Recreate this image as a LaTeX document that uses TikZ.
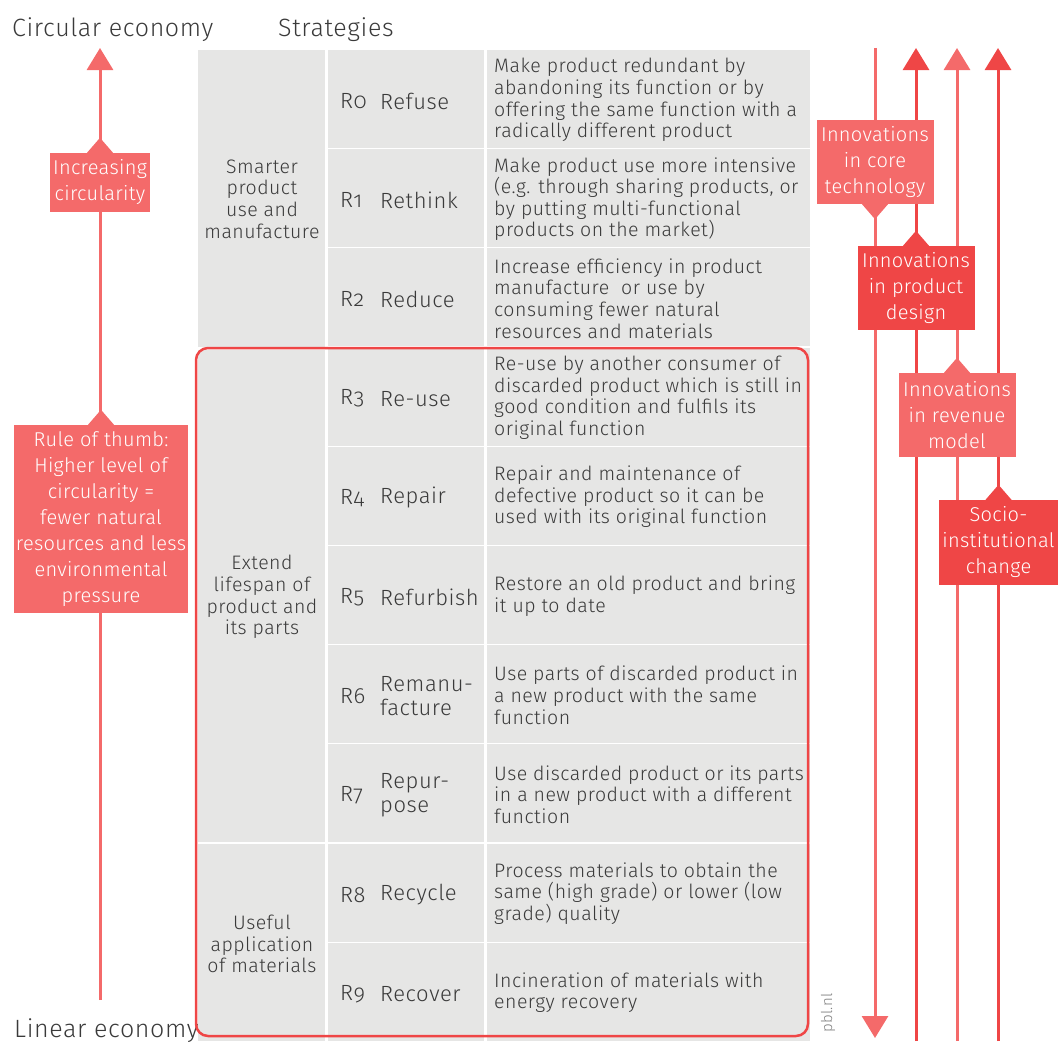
\documentclass[tikz,border=0pt]{standalone}
\usepackage{fontspec}
\setmainfont{Fira Sans Light}[Numbers=OldStyle, LetterSpace=2.5]
\newfontfamily\callfont{Fira Sans Light}[Numbers=OldStyle, LetterSpace=1.5]
\usetikzlibrary{arrows.meta,positioning}
\definecolor{lightred}{HTML}{F46A6A}
\definecolor{darkred}{HTML}{EF4646}
\definecolor{cellgray}{HTML}{E6E6E5}
\definecolor{textgray}{HTML}{3A3A3A}
\begin{document}
\begin{tikzpicture}[x=1pt, y=-1pt,
  cell/.style={fill=cellgray},
  head/.style={anchor=base west, inner sep=0, text=textgray, font=\fontsize{25}{28}\selectfont},
  grp/.style={align=center, inner sep=0, text=textgray, font=\fontsize{19.5}{21.7}\selectfont},
  rnum/.style={anchor=west, inner sep=0, text=textgray, font=\fontsize{22}{24}\selectfont},
  rname/.style={anchor=west, align=left, inner sep=0, text=textgray, font=\fontsize{22}{24}\selectfont},
  desc/.style={anchor=west, align=left, inner sep=0, text=textgray, font=\fontsize{19.5}{21.6}\selectfont},
  callout/.style={fill=#1, text=white, align=center, inner sep=0, font=\callfont\fontsize{20}{26}\selectfont},
  line/.style={#1, line width=3pt},
  tip/.style={-{Triangle[width=26pt,length=22pt]}}]
\useasboundingbox (0,0) rectangle (1059,1041);

% headers
\node[head] (circ) at (12,37) {Circular economy};
\node[head] (strat) at (278,37) {Strategies};
\node[head] (lin) at (14,1037) {Linear economy};

% table
\fill[cell] (198,50) rectangle (325,347);
\fill[cell] (198,349.6) rectangle (325,842);
\fill[cell] (198,843.6) rectangle (325,1041);
\foreach \r/\name/\desc [count=\i from 0] in {
  R0/Refuse/{Make product redundant by\\abandoning its function or by\\offering the same function with a\\radically different product},
  R1/Rethink/{Make product use more intensive\\(e.g. through sharing products, or\\by putting multi-functional\\products on the market)},
  R2/Reduce/{Increase efficiency in product\\manufacture\ \ or use by\\consuming fewer natural\\resources and materials},
  R3/Re-use/{Re-use by another consumer of\\discarded product which is still in\\good condition and fulfils its\\original function},
  R4/Repair/{Repair and maintenance of\\defective product so it can be\\used with its original function},
  R5/Refurbish/{Restore an old product and bring\\it up to date},
  R6/{Remanu-\\facture}/{Use parts of discarded product in\\a new product with the same\\function},
  R7/{Repur-\\pose}/{Use discarded product or its parts\\in a new product with a different\\function},
  R8/Recycle/{Process materials to obtain the\\same (high grade) or lower (low\\grade) quality},
  R9/Recover/{Incineration of materials with\\energy recovery}} {
  \fill[cell] (328,{50+99.2*\i}) rectangle (484,{148+99.2*\i});
  \fill[cell] (487,{50+99.2*\i}) rectangle (810,{148+99.2*\i});
  \node[rnum] (r\i) at (340,{101+99.2*\i}) {\r};
  \node[rname] (n\i) at (380,{101+99.2*\i}) {\name};
  \node[desc] (d\i) at (494,{100+99.2*\i}) {\desc};
}
\node[grp] (smart) at (262,199) {Smarter\\product\\use and\\manufacture};
\node[grp] (extend) at (262,597) {Extend\\lifespan of\\product and\\its parts};
\node[grp] (useful) at (262,944) {Useful\\application\\of materials};
\draw[darkred, line width=2.5pt, rounded corners=12pt] (196,348) rectangle (808,1036);
\node[rotate=90, inner sep=0, text=gray, font=\fontsize{15}{18}\selectfont] (pbl) at (828,1013) {pbl.nl};

% left arrow
\coordinate (la bot) at (100,1000);
\coordinate (la top) at (100,48);
\draw[line=lightred, tip] (la bot) -- (la top);
\node[callout=lightred, minimum width=100pt, minimum height=59pt] (inc) at (100,182.5) {Increasing\\circularity};
\node[callout=lightred, minimum width=174pt, minimum height=188pt] (rule) at (101,519) {Rule of thumb:\\Higher level of\\circularity =\\fewer natural\\resources and less\\environmental\\pressure};

% right arrows
\coordinate (a1 top) at (875,48);   \coordinate (a1 bot) at (875,1038);
\coordinate (a2 top) at (916,48);   \coordinate (a2 bot) at (916,1041);
\coordinate (a3 top) at (957,48);   \coordinate (a3 bot) at (957,1041);
\coordinate (a4 top) at (998,48);   \coordinate (a4 bot) at (998,1041);
\draw[line=lightred, tip] (a1 top) -- (a1 bot);
\draw[line=darkred, tip] (a2 bot) -- (a2 top);
\draw[line=lightred, tip] (a3 bot) -- (a3 top);
\draw[line=darkred, tip] (a4 bot) -- (a4 top);
\node[callout=lightred, minimum width=117pt, minimum height=84pt] (core) at (875,162) {Innovations\\in core\\technology};
\node[callout=darkred, minimum width=117pt, minimum height=84pt] (design) at (916,288) {Innovations\\in product\\design};
\node[callout=lightred, minimum width=117pt, minimum height=84pt] (revenue) at (957,415) {Innovations\\in revenue\\model};
\node[callout=darkred, minimum width=119pt, minimum height=85pt] (socio) at (998.5,542.5) {Socio-\\institutional\\change};

% notches
\foreach \n/\c in {inc/lightred, rule/lightred, design/darkred, revenue/lightred, socio/darkred}
  \fill[\c] ([xshift=-13pt]\n.north) -- ++(13,-15) -- ([xshift=13pt]\n.north) -- cycle;
\fill[lightred] ([xshift=-13pt]core.south) -- ++(13,15) -- ([xshift=13pt]core.south) -- cycle;
\end{tikzpicture}
\end{document}
